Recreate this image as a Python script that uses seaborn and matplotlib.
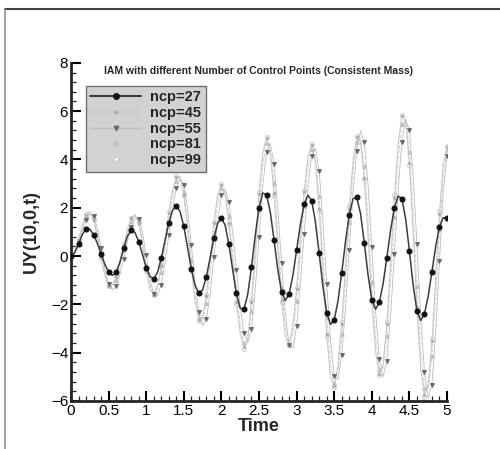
import matplotlib
matplotlib.use("Agg")
import matplotlib.pyplot as plt
import numpy as np
import pandas as pd
import seaborn as sns
from matplotlib.lines import Line2D
from matplotlib.ticker import MultipleLocator

# time samples, 0 .. 5 every 0.05
TIME = np.round(np.arange(0, 5.001, 0.05), 2)

NCP_27 = [
    0, 0.14, 0.49, 0.89, 1.13, 1.11, 0.89, 0.53, 0.09, -0.34,
    -0.66, -0.80, -0.68, -0.26, 0.32, 0.82, 1.07, 0.98, 0.60, 0.07,
    -0.48, -0.85, -0.94, -0.68, -0.10, 0.64, 1.36, 1.89, 2.08, 1.85,
    1.23, 0.36, -0.53, -1.21, -1.53, -1.40, -0.86, -0.07, 0.74, 1.35,
    1.57, 1.28, 0.48, -0.57, -1.55, -2.16, -2.21, -1.59, -0.46, 0.86,
    1.99, 2.61, 2.54, 1.82, 0.67, -0.56, -1.50, -1.84, -1.57, -0.81,
    0.24, 1.31, 2.14, 2.52, 2.30, 1.42, 0.12, -1.26, -2.34, -2.83,
    -2.65, -1.87, -0.70, 0.59, 1.71, 2.37, 2.43, 1.76, 0.55, -0.78,
    -1.81, -2.20, -1.92, -1.15, -0.07, 1.07, 2.00, 2.48, 2.38, 1.55,
    0.22, -1.20, -2.27, -2.67, -2.40, -1.66, -0.64, 0.40, 1.22, 1.59,
    1.58,
]
NCP_45 = [
    0, 0.19, 0.68, 1.27, 1.72, 1.83, 1.51, 0.80, -0.05, -0.81,
    -1.22, -1.20, -0.85, -0.26, 0.44, 1.09, 1.56, 1.72, 1.38, 0.49,
    -0.57, -1.38, -1.59, -1.23, -0.42, 0.66, 1.78, 2.71, 3.27, 3.29,
    2.53, 1.14, -0.48, -1.87, -2.63, -2.54, -1.64, -0.19, 1.35, 2.52,
    2.95, 2.53, 1.36, -0.26, -1.91, -3.19, -3.78, -3.40, -1.89, 0.31,
    2.56, 4.25, 4.88, 4.27, 2.60, 0.37, -1.81, -3.29, -3.66, -2.93,
    -1.36, 0.67, 2.65, 4.07, 4.60, 3.89, 1.94, -0.67, -3.22, -4.94,
    -5.38, -4.58, -2.80, -0.45, 1.96, 3.90, 4.91, 4.74, 3.25, 0.85,
    -1.80, -3.93, -4.89, -4.49, -2.82, -0.31, 2.39, 4.60, 5.81, 5.62,
    3.86, 1.02, -2.11, -4.63, -5.77, -5.33, -3.53, -0.93, 1.75, 3.76,
    4.50,
]
NCP_55 = [
    0, 0.14, 0.53, 1.03, 1.48, 1.73, 1.66, 1.16, 0.35, -0.51,
    -1.16, -1.40, -1.24, -0.77, -0.11, 0.59, 1.19, 1.54, 1.55, 1.01,
    0.05, -0.93, -1.58, -1.66, -1.18, -0.27, 0.87, 1.98, 2.81, 3.19,
    2.94, 1.94, 0.47, -1.09, -2.32, -2.88, -2.61, -1.57, -0.05, 1.47,
    2.52, 2.78, 2.22, 1.01, -0.56, -2.09, -3.19, -3.60, -3.01, -1.39,
    0.77, 2.89, 4.32, 4.67, 3.83, 1.97, -0.30, -2.37, -3.68, -3.82,
    -2.90, -1.15, 0.93, 2.85, 4.16, 4.47, 3.52, 1.42, -1.14, -3.47,
    -4.95, -5.11, -4.10, -2.16, 0.25, 2.60, 4.37, 5.18, 4.73, 2.96,
    0.38, -2.28, -4.27, -5.00, -4.33, -2.47, 0.08, 2.70, 4.74, 5.67,
    5.20, 3.31, 0.50, -2.47, -4.80, -5.87, -5.32, -3.17, -0.19, 2.60,
    4.15,
]
NCP_81 = [
    0, 0.17, 0.63, 1.19, 1.64, 1.80, 1.56, 0.92, 0.08, -0.71,
    -1.20, -1.27, -0.98, -0.43, 0.26, 0.92, 1.44, 1.66, 1.44, 0.66,
    -0.36, -1.23, -1.59, -1.37, -0.67, 0.35, 1.48, 2.47, 3.12, 3.26,
    2.67, 1.41, -0.16, -1.61, -2.53, -2.65, -1.96, -0.65, 0.88, 2.17,
    2.81, 2.61, 1.65, 0.16, -1.46, -2.82, -3.58, -3.47, -2.26, -0.26,
    1.96, 3.80, 4.69, 4.40, 3.01, 0.90, -1.31, -2.98, -3.67, -3.23,
    -1.87, 0.06, 2.08, 3.66, 4.45, 4.08, 2.47, 0.03, -2.53, -4.45,
    -5.24, -4.76, -3.23, -1.02, 1.39, 3.47, 4.73, 4.89, 3.74, 1.55,
    -1.07, -3.38, -4.68, -4.66, -3.32, -1.03, 1.62, 3.97, 5.45, 5.64,
    4.31, 1.78, -1.24, -3.91, -5.45, -5.51, -4.13, -1.68, 1.10, 3.37,
    4.38,
]
NCP_99 = [
    0, 0.20, 0.70, 1.30, 1.75, 1.86, 1.52, 0.78, -0.08, -0.85,
    -1.26, -1.22, -0.84, -0.23, 0.48, 1.12, 1.59, 1.74, 1.37, 0.45,
    -0.62, -1.42, -1.62, -1.22, -0.38, 0.72, 1.84, 2.76, 3.33, 3.33,
    2.52, 1.08, -0.56, -1.95, -2.70, -2.56, -1.60, -0.12, 1.42, 2.58,
    3.00, 2.54, 1.32, -0.33, -1.99, -3.27, -3.84, -3.38, -1.82, 0.40,
    2.65, 4.33, 4.94, 4.26, 2.54, 0.28, -1.90, -3.36, -3.70, -2.90,
    -1.28, 0.76, 2.74, 4.14, 4.64, 3.86, 1.86, -0.77, -3.32, -5.02,
    -5.43, -4.57, -2.73, -0.34, 2.08, 3.99, 4.96, 4.74, 3.18, 0.74,
    -1.92, -4.02, -4.94, -4.47, -2.74, -0.19, 2.51, 4.70, 5.86, 5.60,
    3.78, 0.91, -2.22, -4.72, -5.82, -5.30, -3.45, -0.82, 1.86, 3.84,
    4.56,
]

LABELS = ["ncp=27", "ncp=45", "ncp=55", "ncp=81", "ncp=99"]
SERIES = [NCP_27, NCP_45, NCP_55, NCP_81, NCP_99]

# line colour, line style, width, marker, marker face, marker edge, size, draw order
STYLES = {
    "ncp=27": dict(color="#3c3c3c", ls="-", lw=1.1, marker="o", mfc="#111111", mec="#111111", ms=3.6, z=6),
    "ncp=45": dict(color="#c8c8c8", ls="-", lw=0.7, marker="o", mfc="#b0b0b0", mec="#b0b0b0", ms=1.6, z=3),
    "ncp=55": dict(color="#bcbcbc", ls="-", lw=0.6, marker="v", mfc="#6a6a6a", mec="#6a6a6a", ms=2.8, z=4),
    "ncp=81": dict(color="#d0d0d0", ls="--", lw=0.7, marker="^", mfc="#c8c8c8", mec="#bcbcbc", ms=2.6, z=2),
    "ncp=99": dict(color="#d6d6d6", ls=":", lw=0.8, marker="o", mfc="white", mec="#cccccc", ms=2.8, z=1),
}

sns.set_style("ticks")
plt.rcParams["font.family"] = ["Liberation Sans", "DejaVu Sans"]

df = pd.concat(
    [pd.DataFrame({"Time": TIME, "UY": vals, "ncp": lab}) for lab, vals in zip(LABELS, SERIES)],
    ignore_index=True,
)

fig = plt.figure(figsize=(5.0, 4.49), dpi=100)
ax = fig.add_axes([0.142, 0.107, 0.752, 0.753])

for lab in LABELS:
    st = STYLES[lab]
    sub = df[df["ncp"] == lab]
    sns.lineplot(
        data=sub, x="Time", y="UY", ax=ax, color=st["color"], linestyle=st["ls"],
        linewidth=st["lw"], marker=st["marker"], markerfacecolor=st["mfc"],
        markeredgecolor=st["mec"], markersize=st["ms"], markevery=2,
        zorder=st["z"], legend=False, errorbar=None, sort=False,
    )

ax.set_xlim(0, 5)
ax.set_ylim(-6, 8)
ax.xaxis.set_major_locator(MultipleLocator(0.5))
ax.xaxis.set_minor_locator(MultipleLocator(0.1))
ax.yaxis.set_major_locator(MultipleLocator(2))
ax.yaxis.set_minor_locator(MultipleLocator(0.4))
ax.set_xticklabels([f"{v:g}" for v in ax.get_xticks()])
ax.tick_params(which="major", direction="in", length=7, width=1.5, labelsize=11, pad=2, colors="black")
ax.tick_params(which="minor", direction="in", length=3.5, width=0.9)
sns.despine(ax=ax)
ax.spines["left"].set_linewidth(2)
ax.spines["bottom"].set_linewidth(2)

ax.set_xlabel("Time", fontsize=13, fontweight="bold", labelpad=0)
ax.set_ylabel("UY(10,0,t)", fontsize=13, fontweight="bold", labelpad=8)
ax.text(0.5, 0.99, "IAM with different Number of Control Points (Consistent Mass)",
        transform=ax.transAxes, ha="center", va="top", fontsize=7.5, fontweight="bold")

handles = []
for lab in LABELS:
    st = STYLES[lab]
    handles.append(Line2D([], [], color=st["color"], ls=st["ls"], lw=st["lw"] + 0.4,
                          marker=st["marker"], mfc=st["mfc"], mec=st["mec"], ms=st["ms"] + 0.4))
leg = ax.legend(handles, LABELS, loc="upper left", bbox_to_anchor=(0.04, 0.932),
                borderaxespad=0, frameon=True, fancybox=False, handlelength=3.5,
                labelspacing=0.12, borderpad=0.3, handletextpad=0.6,
                prop={"size": 10.5, "weight": "bold"})
leg.get_frame().set_facecolor("#d2d2d2")
leg.get_frame().set_edgecolor("#707070")
leg.get_frame().set_alpha(1)
leg.get_frame().set_linewidth(1)

# outer frame of the exported picture
fig.add_artist(Line2D([0.01, 1.0], [0.98, 0.98], color="#404040", lw=1.5, transform=fig.transFigure))
fig.add_artist(Line2D([0.01, 0.01], [0.0, 0.98], color="#909090", lw=1.2, transform=fig.transFigure))

fig.savefig("out.png", dpi=100)
